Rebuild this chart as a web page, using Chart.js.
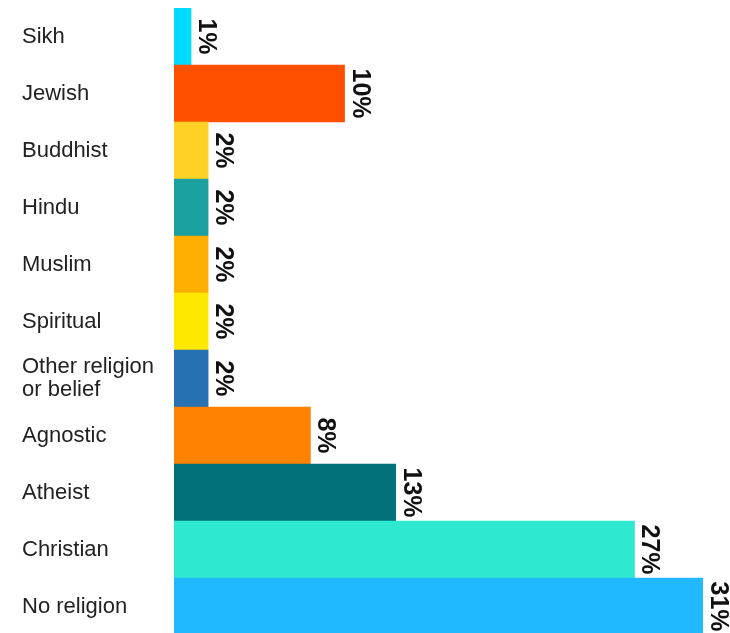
<!DOCTYPE html>
<html>
<head>
<meta charset="utf-8">
<script src="https://cdn.jsdelivr.net/npm/chart.js@4"></script>
<style>
  html, body { margin: 0; padding: 0; background: #fff; overflow: hidden; }
  #wrap { width: 730px; height: 635px; position: relative; }
</style>
</head>
<body>
<div id="wrap"><canvas id="religion-chart"></canvas></div>
<script>
var categories = ["Sikh", "Jewish", "Buddhist", "Hindu", "Muslim", "Spiritual",
    ["Other religion", "or belief"], "Agnostic", "Atheist", "Christian", "No religion"];
var shares = [1, 10, 2, 2, 2, 2, 2, 8, 13, 27, 31];
var barColours = ["#00daff", "#ff5000", "#ffd124", "#1aa19f", "#ffaf00", "#ffe800",
    "#2770b4", "#ff8200", "#007178", "#2ee8cf", "#20b9ff"];

// writes the value up the side of each bar, turned a quarter clockwise
var valueLabels = {
    id: 'valueLabels',
    afterDatasetsDraw: function(chart) {
        var ctx = chart.ctx;
        var meta = chart.getDatasetMeta(0);
        ctx.save();
        ctx.font = 'bold 25px "Liberation Sans", Arial, sans-serif';
        ctx.fillStyle = '#111';
        ctx.textAlign = 'center';
        ctx.textBaseline = 'alphabetic';
        meta.data.forEach(function(bar, i) {
            ctx.save();
            ctx.translate(bar.x + 8, bar.y);
            ctx.rotate(Math.PI / 2);
            ctx.fillText(shares[i] + '%', 0, 0);
            ctx.restore();
        });
        ctx.restore();
    }
};

document.addEventListener("DOMContentLoaded", function() {
    new Chart(document.getElementById("religion-chart"), {
        type: 'bar',
        data: {
            labels: categories,
            datasets: [{
                data: shares,
                backgroundColor: barColours,
                borderWidth: 0,
                barPercentage: 1,
                categoryPercentage: 1
            }]
        },
        options: {
            indexAxis: 'y',
            responsive: true,
            maintainAspectRatio: false,
            animation: false,
            layout: { padding: { left: 22, top: 8, right: 0, bottom: 0 } },
            plugins: {
                legend: { display: false },
                tooltip: { enabled: false }
            },
            scales: {
                x: {
                    display: false,
                    min: 0,
                    max: 32.6
                },
                y: {
                    grid: { display: false, drawTicks: false },
                    border: { display: false },
                    afterFit: function(scale) {
                        scale.width = 152;
                        scale.paddingTop = 0;
                        scale.paddingBottom = 0;
                    },
                    ticks: {
                        crossAlign: 'far',
                        padding: 0,
                        color: '#222',
                        font: { family: '"Liberation Sans", Arial, sans-serif', size: 22, lineHeight: 1.05 }
                    }
                }
            }
        },
        plugins: [valueLabels]
    });
});
</script>
</body>
</html>
